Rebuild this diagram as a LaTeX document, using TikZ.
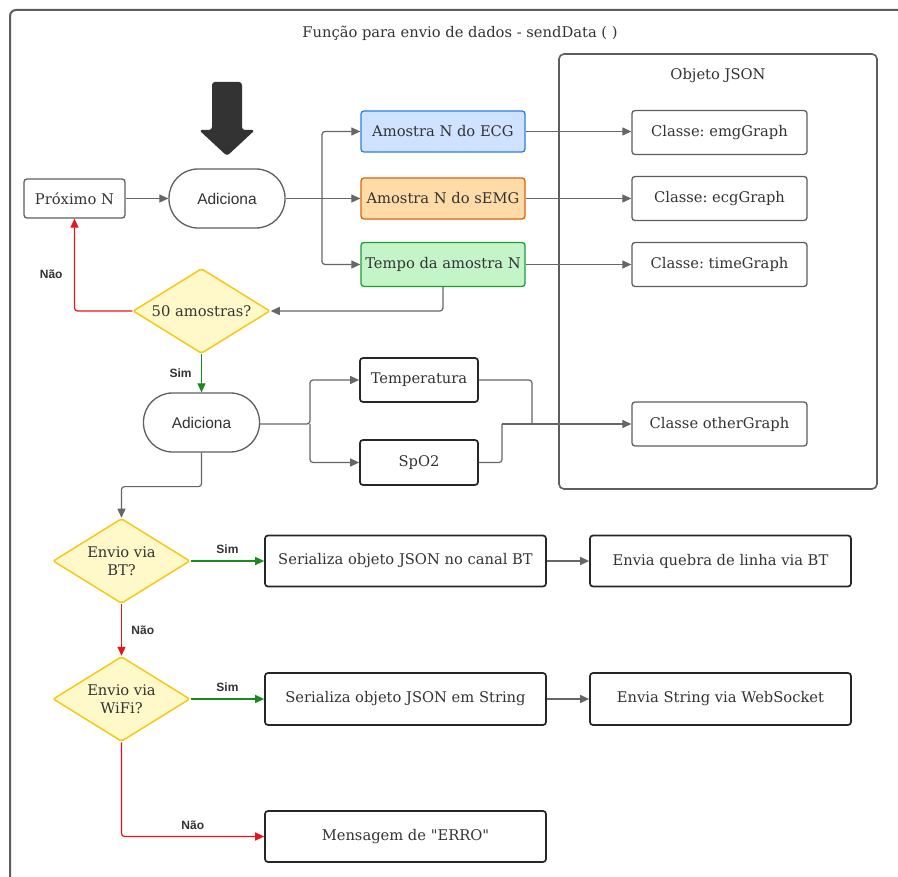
\documentclass[tikz,border=0pt]{standalone}
\usepackage{fontspec}
\setmainfont{DejaVu Serif}
\setsansfont{Liberation Sans}
\usetikzlibrary{shapes.geometric,arrows.meta}
\frenchspacing

\definecolor{linegray}{HTML}{666666}
\definecolor{framegray}{HTML}{5E5E5E}
\definecolor{txtgray}{HTML}{333333}
\definecolor{ecgfill}{HTML}{CFE2FF}
\definecolor{ecgline}{HTML}{2B7DE9}
\definecolor{emgfill}{HTML}{FFDBA8}
\definecolor{emgline}{HTML}{D9620F}
\definecolor{timefill}{HTML}{C3F5C9}
\definecolor{timeline}{HTML}{1F9C36}
\definecolor{askfill}{HTML}{FFF9C9}
\definecolor{askline}{HTML}{F6C915}
\definecolor{simgreen}{HTML}{1A8A1A}
\definecolor{naored}{HTML}{E8141C}

\tikzset{
  txt/.style={font=\fontsize{14.7}{17.5}\selectfont, text=txtgray, inner sep=0pt, align=center},
  box/.style={txt, draw=framegray, line width=1.3pt, rounded corners=3pt},
  strongbox/.style={box, draw=black!85, line width=1.7pt},
  pill/.style={box, font=\sffamily\fontsize{15.5}{17}\selectfont,
    minimum width=116pt, minimum height=59pt, rounded corners=29pt},
  ask/.style={txt, shape=diamond, aspect=1.6, draw=askline, fill=askfill,
    line width=1.5pt, rounded corners=2pt, minimum width=137pt, minimum height=85pt},
  conn/.style={draw=linegray, line width=1.2pt, rounded corners=3pt,
    -{Triangle[length=9pt,width=8pt]}},
  sim/.style={conn, draw=simgreen, -{Triangle[length=9pt,width=8pt,fill=simgreen]}},
  nao/.style={conn, draw=naored, -{Triangle[length=9pt,width=8pt,fill=naored]}},
  tag/.style={font=\sffamily\bfseries\fontsize{12}{13}\selectfont, text=txtgray}
}

\begin{document}
\begin{tikzpicture}[x=1pt,y=-1pt]
  \fill [white] (0,0) rectangle (898,877);
  \clip (0,0) rectangle (898,877);
  \useasboundingbox (0,0) rectangle (898,877);

  % moldura da funcao
  \draw [framegray, line width=2pt, rounded corners=6pt] (10,10) rectangle (915,895);
  \node [txt] (title) at (460,33) {Função para envio de dados - sendData ( )};

  \fill [txtgray, rounded corners=3pt]
  (212,82) -- (242,82) -- (242,130) -- (255,130) -- (227,156) -- (199,130) -- (212,130) -- cycle;

  % objeto JSON
  \node [box, line width=1.6pt, rounded corners=5pt, minimum width=318pt, minimum height=435pt]
  (json) at (718,271.5) {};
  \node [txt] (jsontitle) at (718,76) {Objeto JSON};

  \node [box, minimum width=101pt, minimum height=39pt] (prox) at (74.5,198.5) {Próximo N};
  \node [pill] (adic1) at (227,198.5) {Adiciona};

  \node [box, draw=ecgline, fill=ecgfill, minimum width=164pt, minimum height=41pt]
  (ecg) at (443,131.5) {Amostra N do ECG};
  \node [box, draw=emgline, fill=emgfill, minimum width=164pt, minimum height=41pt]
  (emg) at (443,198.5) {Amostra N do sEMG};
  \node [box, draw=timeline, fill=timefill, minimum width=164pt, minimum height=44pt]
  (tempo) at (443,264.5) {Tempo da amostra N};

  \node [box, minimum width=175pt, minimum height=44pt] (cemg) at (719.5,132.5) {Classe: emgGraph};
  \node [box, minimum width=175pt, minimum height=44pt] (cecg) at (719.5,198.5) {Classe: ecgGraph};
  \node [box, minimum width=175pt, minimum height=44pt] (ctime) at (719.5,264.5) {Classe: timeGraph};
  \node [box, minimum width=175pt, minimum height=44pt] (cother) at (719.5,424) {Classe otherGraph};

  \node [ask] (q50) at (201.5,311) {50 amostras?};
  \node [pill] (adic2) at (201.5,422.5) {Adiciona};

  \node [strongbox, minimum width=118pt, minimum height=44pt] (temp) at (419,380) {Temperatura};
  \node [strongbox, minimum width=118pt, minimum height=45pt] (spo) at (419,462.5) {SpO2};

  \node [ask] (qbt) at (121.5,561) {Envio via\\BT?};
  \node [ask] (qwifi) at (121.5,699) {Envio via\\WiFi?};

  \node [strongbox, minimum width=281pt, minimum height=51pt] (serbt) at (405.5,561) {Serializa objeto JSON no canal BT};
  \node [strongbox, minimum width=261pt, minimum height=51pt] (quebra) at (720.5,561) {Envia quebra de linha via BT};
  \node [strongbox, minimum width=281pt, minimum height=52pt] (serstr) at (405.5,699) {Serializa objeto JSON em String};
  \node [strongbox, minimum width=261pt, minimum height=52pt] (websock) at (720.5,699) {Envia String via WebSocket};
  \node [strongbox, minimum width=281pt, minimum height=51pt] (erro) at (405.5,836.5) {Mensagem de \textquotedbl ERRO\textquotedbl};

  % ligacoes
  \coordinate (split1) at (322,198.5);
  \coordinate (split2) at (310,424);
  \coordinate (join1) at (532,424);
  \coordinate (join2) at (502,424);

  \draw [conn] (prox) -- (adic1);
  \draw [conn] (adic1.east) -- (emg.west);
  \draw [conn] (split1) |- (ecg.west);
  \draw [conn] (split1) |- (tempo.west);

  \draw [conn] (ecg.east) -- (ecg.east -| cemg.west);
  \draw [conn] (emg.east) -- (cecg.west);
  \draw [conn] (tempo.east) -- (ctime.west);

  \draw [conn] (tempo.south) |- (q50.east);
  \draw [nao] (q50.west) -| node [tag, pos=0.7, left=8pt] {Não} (prox.south);
  \draw [sim] (q50.south) -- node [tag, left=6pt] {Sim} (adic2.north);

  \draw [conn] (adic2.east |- split2) -- (split2) |- (temp.west);
  \draw [conn] (split2) |- (spo.west);
  \draw [draw=linegray, line width=1.2pt, rounded corners=3pt] (temp.east) -| (join1);
  \draw [draw=linegray, line width=1.2pt, rounded corners=3pt] (spo.east) -| (join2);
  \draw [conn] (join2) -- (cother.west);

  \draw [conn] (adic2.south) -- ++(0,34) -| (qbt.north);
  \draw [sim] (qbt.east) -- node [tag, above=3pt] {Sim} (serbt.west);
  \draw [conn] (serbt) -- (quebra);
  \draw [nao] (qbt.south) -- node [tag, right=6pt] {Não} (qwifi.north);
  \draw [sim] (qwifi.east) -- node [tag, above=3pt] {Sim} (serstr.west);
  \draw [conn] (serstr) -- (websock);
  \draw [nao] (qwifi.south) |- node [tag, pos=0.75, above=3pt] {Não} (erro.west);
\end{tikzpicture}
\end{document}
